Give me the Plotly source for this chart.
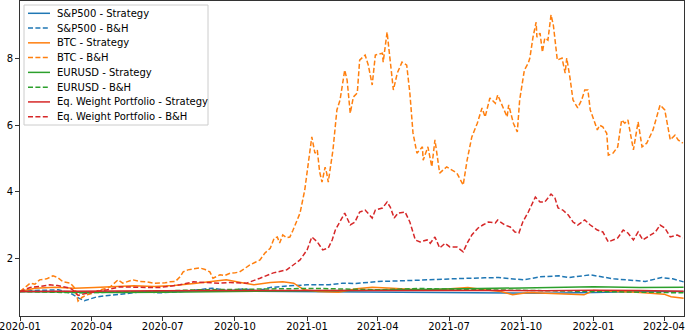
import plotly.graph_objects as go

# ---------------- data ----------------
btc_bh_dates = [
    "2020-01-01","2020-01-07","2020-01-14","2020-01-20","2020-01-26","2020-02-04","2020-02-12","2020-02-18",
    "2020-02-25","2020-03-05","2020-03-11","2020-03-15","2020-03-20","2020-03-26","2020-04-03","2020-04-12",
    "2020-04-18","2020-04-25","2020-05-01","2020-05-05","2020-05-11","2020-05-18","2020-05-24","2020-06-02",
    "2020-06-11","2020-06-19","2020-06-27","2020-07-04","2020-07-10","2020-07-17","2020-07-23","2020-07-27",
    "2020-08-02","2020-08-09","2020-08-17","2020-08-24","2020-08-30","2020-09-03","2020-09-08","2020-09-12",
    "2020-09-18","2020-09-25","2020-10-01","2020-10-07","2020-10-14","2020-10-20","2020-10-27","2020-11-02",
    "2020-11-08","2020-11-15","2020-11-20","2020-11-24","2020-11-27","2020-12-01","2020-12-06","2020-12-10",
    "2020-12-14","2020-12-18","2020-12-23","2020-12-29","2021-01-02","2021-01-07","2021-01-11","2021-01-14",
    "2021-01-17","2021-01-20","2021-01-24","2021-01-26","2021-01-28","2021-02-03","2021-02-08","2021-02-12",
    "2021-02-18","2021-02-21","2021-02-25","2021-03-01","2021-03-06","2021-03-09","2021-03-16","2021-03-20",
    "2021-03-25","2021-03-29","2021-04-07","2021-04-08","2021-04-13","2021-04-17","2021-04-21","2021-04-26",
    "2021-05-02","2021-05-08","2021-05-12","2021-05-16","2021-05-21","2021-05-28","2021-05-29","2021-06-04",
    "2021-06-09","2021-06-13","2021-06-19","2021-06-28","2021-07-05","2021-07-11","2021-07-19","2021-07-24",
    "2021-07-30","2021-08-06","2021-08-12","2021-08-16","2021-08-22","2021-08-29","2021-09-01","2021-09-08",
    "2021-09-13","2021-09-15","2021-09-21","2021-09-26","2021-09-29","2021-10-05","2021-10-10","2021-10-12",
    "2021-10-16","2021-10-20","2021-10-21","2021-10-25","2021-10-28","2021-10-31","2021-11-04","2021-11-08",
    "2021-11-11","2021-11-16","2021-11-22","2021-11-26","2021-11-28","2021-12-02","2021-12-06","2021-12-12",
    "2021-12-17","2021-12-21","2021-12-25","2021-12-28","2022-01-06","2022-01-09","2022-01-13","2022-01-18",
    "2022-01-20","2022-01-26","2022-02-01","2022-02-06","2022-02-10","2022-02-14","2022-02-21","2022-02-27",
    "2022-03-04","2022-03-10","2022-03-18","2022-03-27","2022-04-02","2022-04-09","2022-04-15","2022-04-19",
    "2022-04-25",
]
btc_bh_values = [
    1.00,1.12,1.25,1.22,1.35,1.38,1.47,1.42,
    1.29,1.25,1.10,0.71,0.82,0.90,0.95,1.05,
    1.08,1.14,1.25,1.35,1.25,1.30,1.35,1.30,
    1.29,1.25,1.25,1.26,1.29,1.30,1.44,1.59,
    1.65,1.68,1.71,1.66,1.59,1.40,1.45,1.50,
    1.48,1.55,1.56,1.59,1.70,1.80,1.88,1.95,
    2.15,2.30,2.60,2.64,2.46,2.70,2.62,2.64,
    2.84,3.10,3.36,4.05,4.74,5.65,5.16,5.25,
    4.60,4.29,4.74,4.56,4.29,5.26,6.46,6.76,
    7.66,7.36,6.36,6.85,6.97,7.96,8.11,7.81,
    7.21,8.11,8.17,7.90,8.80,7.96,7.06,7.57,
    7.90,7.81,6.97,5.77,5.16,5.35,4.95,5.35,
    4.75,5.56,4.56,4.75,4.65,4.56,4.20,4.95,
    5.65,6.06,6.52,6.25,6.82,6.66,6.91,6.55,
    6.25,6.61,6.06,5.80,6.76,7.66,7.87,8.02,
    8.65,9.10,8.65,8.77,8.20,8.62,8.56,9.32,
    9.00,7.96,8.02,7.57,8.02,7.45,6.76,6.52,
    6.76,7.06,7.06,6.46,5.86,6.00,5.95,5.76,
    5.10,5.16,5.35,6.16,6.06,6.16,5.26,6.10,
    5.35,5.46,5.86,6.61,6.46,5.56,5.70,5.56,
    5.46,
]

ew_bh_dates = [
    "2020-01-01","2020-01-14","2020-01-26","2020-02-08","2020-02-18","2020-02-25","2020-03-05","2020-03-11",
    "2020-03-15","2020-03-26","2020-04-08","2020-04-21","2020-05-07","2020-05-24","2020-06-11","2020-06-27",
    "2020-07-06","2020-07-23","2020-08-09","2020-08-17","2020-08-30","2020-09-12","2020-09-25","2020-10-16",
    "2020-11-02","2020-11-19","2020-12-06","2020-12-14","2020-12-23","2021-01-01","2021-01-07","2021-01-14",
    "2021-01-21","2021-01-28","2021-02-02","2021-02-06","2021-02-12","2021-02-18","2021-02-25","2021-03-03",
    "2021-03-09","2021-03-16","2021-03-25","2021-03-29","2021-04-07","2021-04-13","2021-04-17","2021-04-22",
    "2021-04-27","2021-05-06","2021-05-12","2021-05-19","2021-05-25","2021-06-03","2021-06-07","2021-06-13",
    "2021-06-19","2021-06-26","2021-07-02","2021-07-11","2021-07-19","2021-07-24","2021-07-30","2021-08-07",
    "2021-08-13","2021-08-20","2021-08-29","2021-09-01","2021-09-10","2021-09-17","2021-09-23","2021-09-28",
    "2021-10-03","2021-10-10","2021-10-19","2021-10-25","2021-10-31","2021-11-08","2021-11-13","2021-11-17",
    "2021-11-23","2021-11-30","2021-12-06","2021-12-12","2021-12-21","2021-12-28","2022-01-06","2022-01-13",
    "2022-01-20","2022-01-26","2022-02-01","2022-02-08","2022-02-14","2022-02-21","2022-02-27","2022-03-05",
    "2022-03-14","2022-03-21","2022-03-27","2022-04-02","2022-04-09","2022-04-18","2022-04-25",
]
ew_bh_values = [
    1.00,1.12,1.15,1.20,1.18,1.14,1.10,1.00,
    0.88,0.95,1.00,1.05,1.14,1.12,1.12,1.12,
    1.14,1.20,1.29,1.28,1.27,1.25,1.27,1.25,
    1.40,1.56,1.65,1.80,1.95,2.25,2.64,2.49,
    2.25,2.31,2.55,2.85,3.09,3.36,3.00,3.09,
    3.39,3.45,3.21,3.45,3.51,3.69,3.54,3.21,
    3.36,3.39,3.09,2.55,2.49,2.55,2.45,2.64,
    2.31,2.45,2.34,2.34,2.19,2.45,2.70,2.91,
    3.00,3.09,3.06,3.15,3.00,2.94,2.79,2.76,
    3.09,3.39,3.84,3.69,3.69,3.93,3.81,3.51,
    3.45,3.30,3.09,3.00,3.15,3.00,2.85,2.79,
    2.49,2.55,2.61,2.85,2.76,2.55,2.79,2.55,
    2.70,2.79,3.00,2.91,2.64,2.70,2.61,
]

spx_bh_dates = [
    "2020-01-01","2020-01-20","2020-02-19","2020-03-05","2020-03-16","2020-03-23","2020-04-08","2020-05-01",
    "2020-05-25","2020-06-08","2020-06-26","2020-07-20","2020-08-15","2020-09-02","2020-09-23","2020-10-12",
    "2020-10-30","2020-11-15","2020-12-10","2021-01-01","2021-01-29","2021-02-15","2021-03-04","2021-04-01",
    "2021-05-12","2021-06-15","2021-07-15","2021-08-15","2021-09-02","2021-10-04","2021-10-25","2021-11-18",
    "2021-12-01","2021-12-28","2022-01-10","2022-01-27","2022-02-23","2022-03-08","2022-03-29","2022-04-12",
    "2022-04-26",
]
spx_bh_values = [
    1.00,1.03,1.05,0.95,0.80,0.72,0.84,0.90,
    0.95,1.00,0.96,0.99,1.05,1.10,1.02,1.08,
    1.02,1.12,1.17,1.20,1.20,1.25,1.24,1.30,
    1.33,1.37,1.39,1.41,1.42,1.35,1.44,1.47,
    1.42,1.50,1.45,1.38,1.33,1.30,1.42,1.38,
    1.29,
]

spx_st_dates = ["2020-01-01","2020-03-01","2020-03-20","2020-05-01","2020-07-01","2020-09-01","2020-11-01",
                "2021-01-01","2021-03-01","2021-05-01","2021-07-01","2021-09-01","2021-11-01","2022-01-01",
                "2022-03-01","2022-04-26"]
spx_st_values = [1.00,1.00,0.97,0.99,1.00,1.02,1.01,1.00,0.99,0.98,0.96,0.96,0.95,0.97,1.00,1.00]

btc_st_dates = [
    "2020-01-01","2020-01-20","2020-02-15","2020-03-10","2020-04-05","2020-05-01","2020-05-25","2020-06-20",
    "2020-07-15","2020-08-10","2020-09-01","2020-09-20","2020-10-10","2020-10-25","2020-11-15","2020-12-01",
    "2020-12-15","2020-12-28","2021-01-15","2021-02-10","2021-03-05","2021-03-25","2021-04-20","2021-05-15",
    "2021-06-15","2021-07-10","2021-07-25","2021-08-15","2021-09-05","2021-09-20","2021-10-10","2021-11-01",
    "2021-11-25","2021-12-20","2022-01-01","2022-02-01","2022-02-25","2022-03-15","2022-04-01","2022-04-10",
    "2022-04-26",
]
btc_st_values = [
    1.00,1.10,1.13,1.10,1.12,1.14,1.17,1.15,
    1.18,1.24,1.30,1.35,1.26,1.20,1.27,1.29,
    1.25,1.05,1.00,0.98,1.08,1.13,1.10,1.06,
    1.05,1.10,1.12,1.05,1.00,0.90,0.97,0.95,
    0.92,0.90,1.03,1.01,0.98,0.95,0.92,0.84,
    0.80,
]

eur_st_dates = ["2020-01-01","2020-03-01","2020-05-01","2020-07-01","2020-09-01","2020-11-01","2021-01-01",
                "2021-03-01","2021-05-01","2021-07-01","2021-09-01","2021-11-01","2022-01-01","2022-03-01",
                "2022-04-26"]
eur_st_values = [1.00,0.98,0.97,0.98,1.00,1.01,1.02,1.03,1.05,1.07,1.10,1.13,1.14,1.12,1.13]

eur_bh_dates = ["2020-01-01","2020-03-20","2020-06-10","2020-08-15","2020-12-31","2021-01-20","2021-03-31",
                "2021-05-25","2021-08-20","2021-11-24","2022-01-15","2022-03-07","2022-04-26"]
eur_bh_values = [1.00,0.96,1.00,1.05,1.09,1.09,1.05,1.09,1.05,1.01,1.01,0.98,0.96]

ew_st_dates = ["2020-01-01","2020-03-01","2020-05-01","2020-07-01","2020-09-01","2020-11-01","2021-01-01",
               "2021-03-01","2021-05-01","2021-07-01","2021-09-01","2021-11-01","2022-01-01","2022-03-01",
               "2022-04-26"]
ew_st_values = [1.00,1.00,1.01,1.02,1.03,1.03,1.03,1.04,1.03,1.05,1.03,1.02,1.04,1.03,1.01]

series_names = ["S&P500 - Strategy", "S&P500 - B&H", "BTC - Strategy", "BTC - B&H",
                "EURUSD - Strategy", "EURUSD - B&H",
                "Eq. Weight Portfolio - Strategy", "Eq. Weight Portfolio - B&H"]

# ---------------- styling ----------------
BLUE, ORANGE, GREEN, RED = "#1f77b4", "#ff7f0e", "#2ca02c", "#d62728"
DASH = "5px,2.4px"

traces = [
    (spx_st_dates, spx_st_values, BLUE, "solid"),
    (spx_bh_dates, spx_bh_values, BLUE, DASH),
    (btc_st_dates, btc_st_values, ORANGE, "solid"),
    (btc_bh_dates, btc_bh_values, ORANGE, DASH),
    (eur_st_dates, eur_st_values, GREEN, "solid"),
    (eur_bh_dates, eur_bh_values, GREEN, DASH),
    (ew_st_dates, ew_st_values, RED, "solid"),
    (ew_bh_dates, ew_bh_values, RED, DASH),
]

W, H = 685, 331
ML, MR, MT, MB = 20, 1, 1, 15
PW, PH = W - ML - MR, H - MT - MB

fig = go.Figure()
for name, (d, v, c, dash) in zip(series_names, traces):
    fig.add_trace(go.Scatter(x=d, y=v, mode="lines", name=name,
                             line=dict(color=c, width=1.5, dash=dash),
                             showlegend=False))

def px(x):
    return (x - ML) / PW

def py(y):
    return (H - MB - y) / PH

shapes = [dict(type="rect", xref="paper", yref="paper",
               x0=px(24), x1=px(208), y0=py(125), y1=py(5),
               fillcolor="rgba(255,255,255,0.85)", line=dict(color="#cccccc", width=1),
               layer="above")]
annotations = []
for i, (name, (d, v, c, dash)) in enumerate(zip(series_names, traces)):
    yc = 13.3 + i * 14.77
    shapes.append(dict(type="line", xref="paper", yref="paper",
                       x0=px(28), x1=px(50), y0=py(yc), y1=py(yc),
                       line=dict(color=c, width=1.5, dash=dash), layer="above"))
    annotations.append(dict(xref="paper", yref="paper", x=px(55), y=py(yc),
                            xanchor="left", yanchor="middle", showarrow=False,
                            text=name.replace("&", "&amp;"),
                            font=dict(size=10, color="#000000", family="DejaVu Sans")))

fig.update_layout(
    width=W, height=H,
    margin=dict(l=ML, r=MR, t=MT, b=MB, autoexpand=False),
    paper_bgcolor="white", plot_bgcolor="white",
    font=dict(family="DejaVu Sans", size=10, color="#000000"),
    shapes=shapes, annotations=annotations,
    xaxis=dict(range=["2020-01-01", "2022-04-26 12:00"], tickformat="%Y-%m",
               tick0="2020-01-01", dtick="M3", showgrid=False, zeroline=False,
               showline=True, mirror=True, linecolor="#333333", linewidth=1,
               ticks="outside", ticklen=4, tickcolor="#333333", automargin=False,
               ticklabelstandoff=-3, ticklabeloverflow="allow",
               tickfont=dict(size=10, color="#000000")),
    yaxis=dict(range=[0.263, 9.737], tickvals=[2, 4, 6, 8], showgrid=False, zeroline=False,
               showline=True, mirror=True, linecolor="#333333", linewidth=1,
               ticks="outside", ticklen=4, tickcolor="#333333", automargin=False,
               tickfont=dict(size=10, color="#000000")),
)

fig.write_html("out.html", config={"displayModeBar": False},
               post_script="document.body.style.margin='0';document.body.style.overflow='hidden';")
